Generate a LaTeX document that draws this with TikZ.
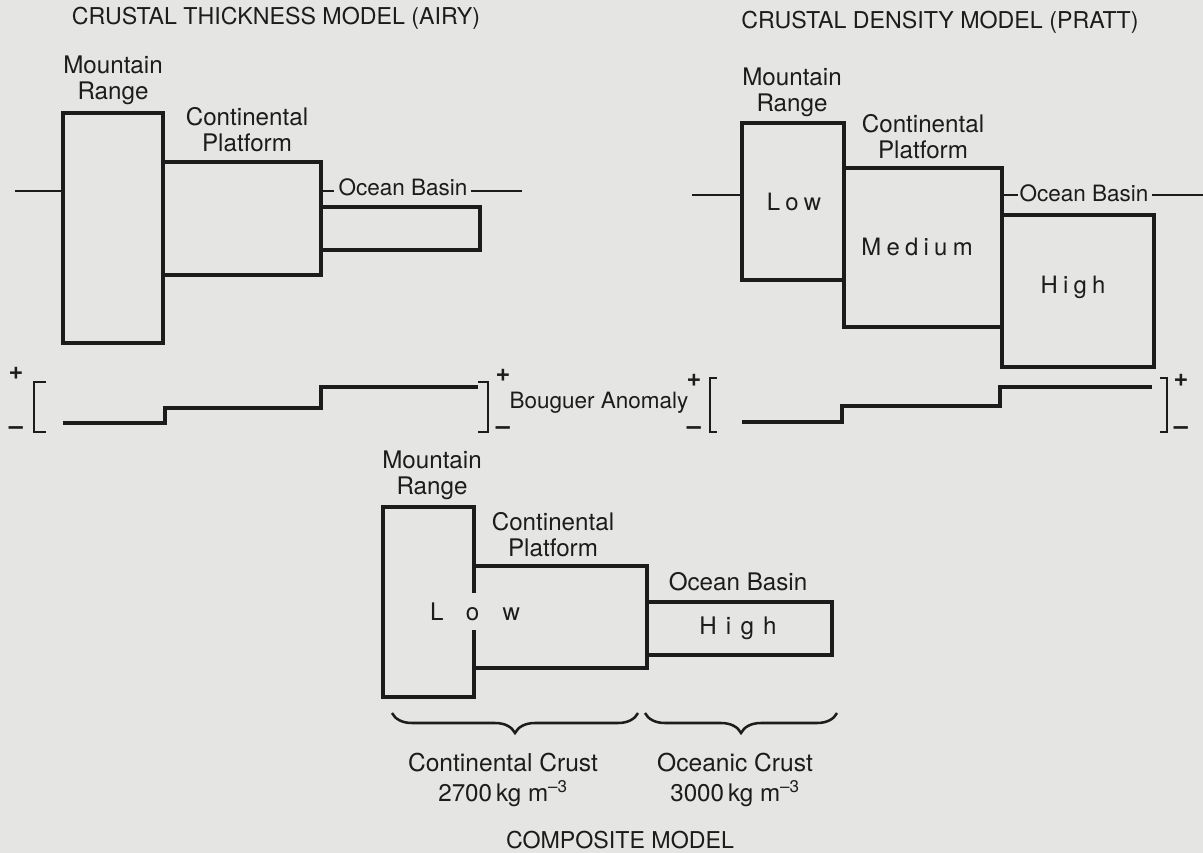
\documentclass[tikz,border=0pt]{standalone}
\usepackage{fontspec}
\setmainfont{TeX Gyre Heros}
\newfontfamily\spaced[LetterSpace=22]{TeX Gyre Heros}
\usetikzlibrary{positioning,decorations.pathreplacing}
\definecolor{paper}{RGB}{229,229,227}
\definecolor{ink}{RGB}{28,28,28}

\begin{document}
\begin{tikzpicture}[x=0.025cm, y=-0.025cm,
    title/.style={font=\fontsize{16.5}{18}\selectfont, text=ink, inner sep=0pt},
    lbl/.style={font=\fontsize{17.2}{18.5}\selectfont, align=center, text=ink, inner sep=0pt},
    dens/.style={font=\spaced\fontsize{17}{18}\selectfont, text=ink, inner sep=0pt},
    sign/.style={font=\bfseries\fontsize{18}{19}\selectfont, text=ink, inner sep=0pt},
    crust/.style={draw=ink, line width=2.5pt},
    sealevel/.style={draw=ink, line width=1.2pt},
    anomaly/.style={draw=ink, line width=2.4pt},
    bracket/.style={draw=ink, line width=1.6pt},
    brace/.style={draw=ink, line width=1.8pt, decorate, decoration={brace, mirror, amplitude=0.5cm}}]
    \fill[paper] (0,0) rectangle (1203,853);
    \useasboundingbox (0,0) rectangle (1203,853);
    % Airy model
    \node[title] (airytitle) at (276,18) {CRUSTAL THICKNESS MODEL (AIRY)};
    \node[lbl] (airymtn) at (113,80) {Mountain\\Range};
    \node[lbl] (airyplat) at (247,130) {Continental\\Platform};
    \node[lbl, font=\fontsize{16}{18}\selectfont] (airyocean) at (403,187) {Ocean Basin};
    \draw[crust] (63,113) rectangle (163,343);
    \draw[crust] (163,162) -- (321,162) -- (321,275) -- (163,275);
    \draw[crust] (321,207) -- (480,207) -- (480,250) -- (321,250);
    \draw[sealevel] (15,191) -- (63,191);
    \draw[sealevel] (323,191) -- (334,191);
    \draw[sealevel] (471,191) -- (522,191);
    % Airy anomaly
    \node[sign] (airyplusl) at (16,373) {+};
    \node[sign] (airyminl) at (16,431) {--};
    \draw[bracket] (46,382) -- (34,382) -- (34,432) -- (46,432);
    \draw[anomaly] (63,423) -- (165,423) -- (165,408) -- (321,408) -- (321,387) -- (478,387);
    \draw[bracket] (478,382) -- (488,382) -- (488,432) -- (478,432);
    \node[sign] (airyplusr) at (503,375) {+};
    \node[sign] (airyminr) at (503,431) {--};
    \node[lbl, font=\fontsize{16}{18}\selectfont] (bouguer) at (599,403) {Bouguer Anomaly};
    % Pratt model
    \node[title] (pratttitle) at (940,22) {CRUSTAL DENSITY MODEL (PRATT)};
    \node[lbl] (prattmtn) at (792,92) {Mountain\\Range};
    \node[lbl] (prattplat) at (923,137) {Continental\\Platform};
    \node[lbl, font=\fontsize{16}{18}\selectfont] (prattocean) at (1084,193) {Ocean Basin};
    \draw[crust] (742,123) rectangle (844,280);
    \draw[crust] (844,168) rectangle (1002,327);
    \draw[crust] (1002,215) rectangle (1154,367);
    \node[dens] (prattlow) at (794,202) {Low};
    \node[dens] (prattmed) at (917,247) {Medium};
    \node[dens] (pratthigh) at (1073,287) {High};
    \draw[sealevel] (692,195) -- (742,195);
    \draw[sealevel] (1003,195) -- (1018,195);
    \draw[sealevel] (1152,195) -- (1203,195);
    % Pratt anomaly
    \node[sign] (prattplusl) at (694,380) {+};
    \node[sign] (prattminl) at (694,431) {--};
    \draw[bracket] (717,378) -- (710,378) -- (710,432) -- (717,432);
    \draw[anomaly] (742,422) -- (842,422) -- (842,406) -- (1000,406) -- (1000,387) -- (1152,387);
    \draw[bracket] (1160,378) -- (1167,378) -- (1167,432) -- (1160,432);
    \node[sign] (prattplusr) at (1181,380) {+};
    \node[sign] (prattminr) at (1181,431) {--};
    % Composite model
    \node[lbl] (compmtn) at (432,475) {Mountain\\Range};
    \node[lbl] (compplat) at (553,535) {Continental\\Platform};
    \node[lbl] (compocean) at (738,582) {Ocean Basin};
    \draw[crust] (474,593) -- (474,507) -- (383,507) -- (383,697) -- (474,697) -- (474,630);
    \draw[crust] (474,566) -- (647,566) -- (647,668) -- (474,668);
    \draw[crust] (647,602) -- (832,602) -- (832,655) -- (647,655);
    \node[lbl] (complow) at (475,612) {L\hspace{0.56cm}o\hspace{0.58cm}w};
    \node[lbl] (comphigh) at (738,628) {H\hspace{0.23cm}i\hspace{0.23cm}g\hspace{0.23cm}h};
    \draw[brace] (392,713) -- (638,713);
    \draw[brace] (645,713) -- (837,713);
    \node[lbl, font=\fontsize{17.5}{19}\selectfont] (contcrust) at (503,763) {Continental Crust};
    \node[lbl, below=0.2cm of contcrust] (contdens) {2700\,kg m\textsuperscript{--3}};
    \node[lbl, font=\fontsize{17.5}{19}\selectfont] (oceancrust) at (735,763) {Oceanic Crust};
    \node[lbl, below=0.2cm of oceancrust] (oceandens) {3000\,kg m\textsuperscript{--3}};
    \node[title] (comptitle) at (620,840) {COMPOSITE MODEL};
\end{tikzpicture}
\end{document}
